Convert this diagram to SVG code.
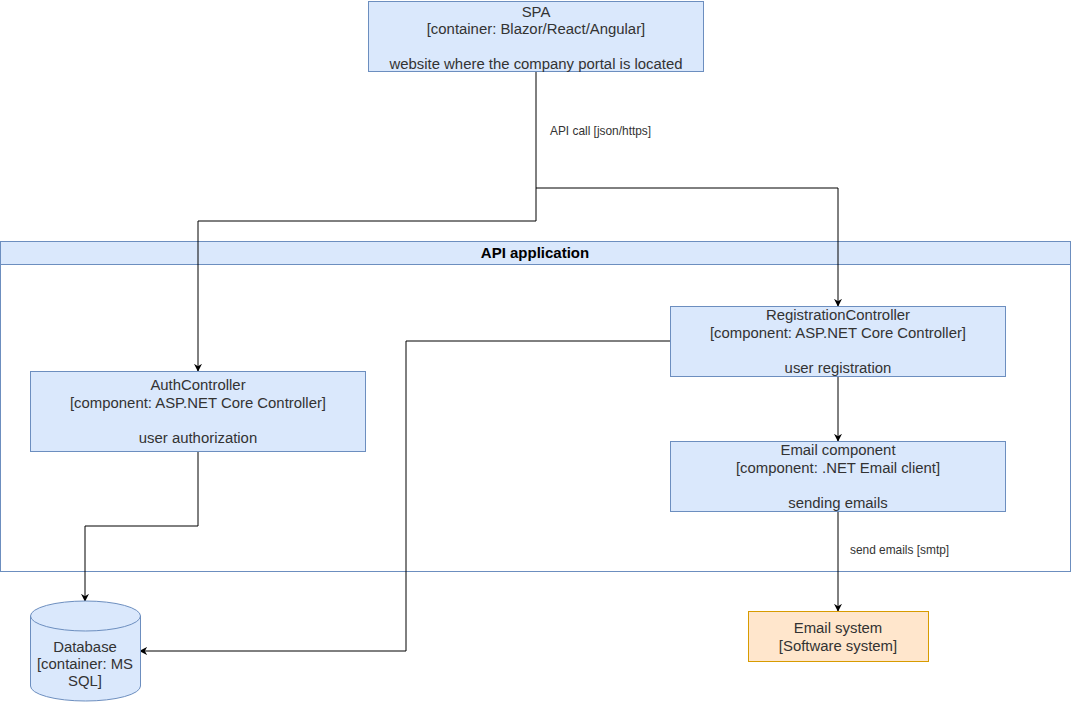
<svg xmlns="http://www.w3.org/2000/svg" width="1071" height="702" viewBox="0 0 1071 702">
<defs>
<style>
.blue{fill:#dae8fc;stroke:#6c8ebf;stroke-width:1}
.orange{fill:#ffe6cc;stroke:#d79b00;stroke-width:1}
.t{font-family:"Liberation Sans",Arial,sans-serif;font-size:14.9px;fill:#333333;text-anchor:middle}
.lbl{font-family:"Liberation Sans",Arial,sans-serif;font-size:11.9px;fill:#333333}
.c{fill:none;stroke:#000000;stroke-width:1;marker-end:url(#arr)}
</style>
<marker id="arr" viewBox="0 0 10 10" refX="9" refY="5" markerWidth="8" markerHeight="8" markerUnits="userSpaceOnUse" orient="auto">
<path d="M0,0 L10,5 L0,10 L3,5 Z" fill="#000000"/>
</marker>
</defs>
<rect width="1071" height="702" fill="#ffffff"/>
<g id="api-application">
<rect class="blue" x="0.5" y="241.5" width="1070" height="330" style="fill:#ffffff"/>
<rect class="blue" x="0.5" y="241.5" width="1070" height="23"/>
<text x="535" y="258" class="t" style="font-weight:bold;fill:#000000;font-size:15px">API application</text>
</g>
<g id="connectors">
<path class="c" d="M536,71 V221 H198 V371"/>
<path class="c" d="M536,188 H838 V306"/>
<path class="c" d="M198,451 V526 H85 V601"/>
<path class="c" d="M670,341 H406 V651 H140"/>
<path class="c" d="M838,376 V441"/>
<path class="c" d="M838,511 V611"/>
<text x="550" y="135" class="lbl">API call [json/https]</text>
<text x="850" y="554" class="lbl">send emails [smtp]</text>
</g>
<g id="spa">
<rect class="blue" x="368.5" y="1.5" width="335" height="70"/>
<text class="t" x="536" y="17">SPA</text>
<text class="t" x="536" y="34">[container: Blazor/React/Angular]</text>
<text class="t" x="536" y="69">website where the company portal is located</text>
</g>
<g id="auth-controller">
<rect class="blue" x="30.5" y="371.5" width="335" height="80"/>
<text class="t" x="198" y="390">AuthController</text>
<text class="t" x="198" y="408">[component: ASP.NET Core Controller]</text>
<text class="t" x="198" y="443">user authorization</text>
</g>
<g id="registration-controller">
<rect class="blue" x="670.5" y="306.5" width="335" height="70"/>
<text class="t" x="838" y="320">RegistrationController</text>
<text class="t" x="838" y="338">[component: ASP.NET Core Controller]</text>
<text class="t" x="838" y="373">user registration</text>
</g>
<g id="email-component">
<rect class="blue" x="670.5" y="441.5" width="335" height="70"/>
<text class="t" x="838" y="455">Email component</text>
<text class="t" x="838" y="473">[component: .NET Email client]</text>
<text class="t" x="838" y="508">sending emails</text>
</g>
<g id="email-system">
<rect class="orange" x="748.5" y="611.5" width="180" height="50"/>
<text class="t" x="838" y="633">Email system</text>
<text class="t" x="838" y="651">[Software system]</text>
</g>
<g id="database">
<path class="blue" d="M30.5,616 A55,15 0 0 1 140.5,616 V686 A55,15 0 0 1 30.5,686 Z"/>
<path class="blue" style="fill:none" d="M30.5,616 A55,15 0 0 0 140.5,616"/>
<text class="t" x="85" y="652">Database</text>
<text class="t" x="85" y="669">[container: MS</text>
<text class="t" x="85" y="686">SQL]</text>
</g>
</svg>
